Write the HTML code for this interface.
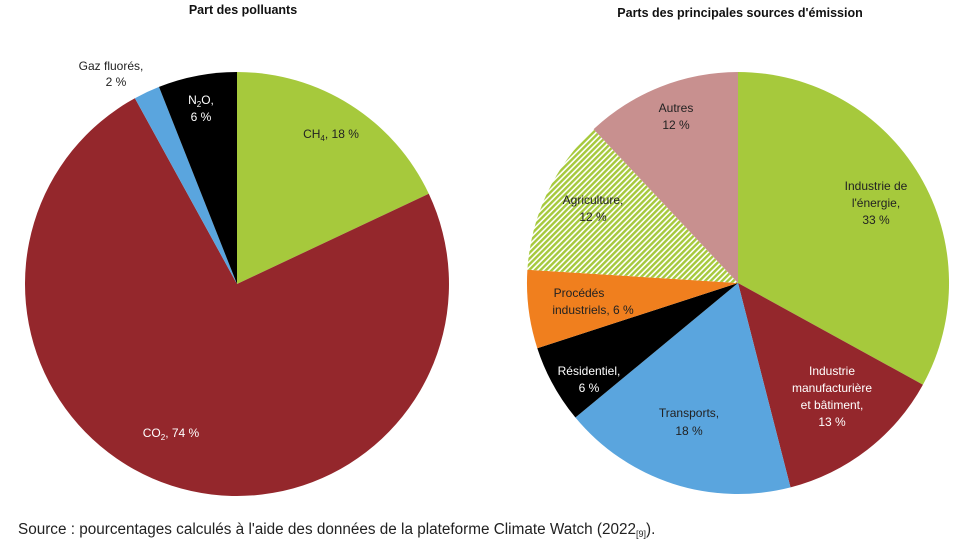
<!DOCTYPE html>
<html><head><meta charset="utf-8"><style>
html,body{margin:0;padding:0;background:#fff;}
svg{display:block;font-family:"Liberation Sans",sans-serif;}
</style></head><body>
<svg width="974" height="560" viewBox="0 0 974 560" xmlns="http://www.w3.org/2000/svg">
<defs>
<pattern id="h" patternUnits="userSpaceOnUse" width="4" height="4" patternTransform="rotate(45)">
<rect width="4" height="4" fill="#fff"/><rect width="2.4" height="4" fill="#a6c93c"/>
</pattern>
</defs>
<g font-size="12.5" text-anchor="middle" font-weight="bold" fill="#111">
<text x="243" y="14">Part des polluants</text>
<text x="740" y="17">Parts des principales sources d'émission</text>
</g>
<path d="M237,284 L237,72 A212,212 0 0 1 428.8,193.7 Z" fill="#a6c93c"/>
<path d="M237,284 L428.8,193.7 A212,212 0 1 1 134.9,98.2 Z" fill="#94272c"/>
<path d="M237,284 L134.9,98.2 A212,212 0 0 1 159,86.9 Z" fill="#5aa5de"/>
<path d="M237,284 L159,86.9 A212,212 0 0 1 237,72 Z" fill="#000"/>
<g font-size="12" fill="#222" text-anchor="middle">
<text x="331" y="138">CH<tspan font-size="8" dy="3">4</tspan><tspan dy="-3">, 18 %</tspan></text>
<text x="171" y="437" fill="#fff">CO<tspan font-size="8" dy="3">2</tspan><tspan dy="-3">, 74 %</tspan></text>
<text x="111" y="70">Gaz fluorés,</text>
<text x="116" y="86">2 %</text>
<text x="201" y="104" fill="#fff">N<tspan font-size="8" dy="3">2</tspan><tspan dy="-3">O,</tspan></text>
<text x="201" y="121" fill="#fff">6 %</text>
</g>
<path d="M738,283 L738,72 A211,211 0 0 1 922.9,384.7 Z" fill="#a6c93c"/>
<path d="M738,283 L922.9,384.7 A211,211 0 0 1 790.5,487.4 Z" fill="#94272c"/>
<path d="M738,283 L790.5,487.4 A211,211 0 0 1 575.4,417.5 Z" fill="#5aa5de"/>
<path d="M738,283 L575.4,417.5 A211,211 0 0 1 537.3,348.2 Z" fill="#000"/>
<path d="M738,283 L537.3,348.2 A211,211 0 0 1 527.4,269.7 Z" fill="#f07f1e"/>
<path d="M738,283 L527.4,269.7 A211,211 0 0 1 593.6,129.2 Z" fill="url(#h)"/>
<path d="M738,283 L593.6,129.2 A211,211 0 0 1 738,72 Z" fill="#c8908f"/>
<g font-size="12" fill="#222" text-anchor="middle">
<text x="676" y="112">Autres</text><text x="676" y="129">12 %</text>
<text x="593" y="204">Agriculture,</text><text x="593" y="221">12 %</text>
<text x="579" y="297">Procédés</text><text x="593" y="314">industriels, 6 %</text>
<text x="589" y="375" fill="#fff">Résidentiel,</text><text x="589" y="392" fill="#fff">6 %</text>
<text x="689" y="417">Transports,</text><text x="689" y="435">18 %</text>
<text x="876" y="190">Industrie de</text><text x="876" y="207">l'énergie,</text><text x="876" y="224">33 %</text>
<g fill="#fff"><text x="832" y="375">Industrie</text><text x="832" y="392">manufacturière</text><text x="832" y="409">et bâtiment,</text><text x="832" y="426">13 %</text></g>
</g>
<text x="18" y="534" font-size="15.3" fill="#222">Source : pourcentages calculés à l'aide des données de la plateforme Climate Watch (2022<tspan font-size="9" dy="3">[9]</tspan><tspan dy="-3">).</tspan></text>
</svg>
</body></html>
